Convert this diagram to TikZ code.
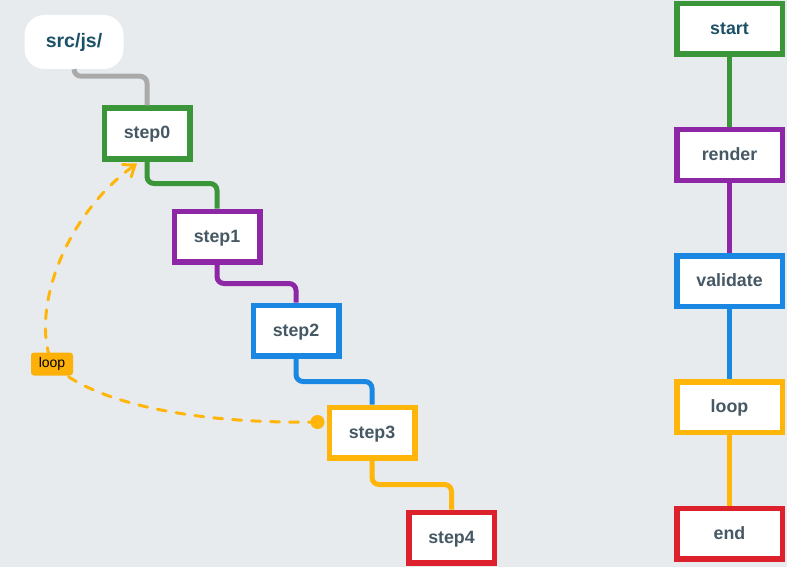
\documentclass[tikz,border=0pt]{standalone}
\usepackage{fontspec}
\setmainfont{Liberation Sans}
\usetikzlibrary{arrows.meta}
\definecolor{bgc}{RGB}{232,235,238}
\definecolor{cgreen}{RGB}{58,150,57}
\definecolor{cpurple}{RGB}{142,39,166}
\definecolor{cblue}{RGB}{26,136,226}
\definecolor{cyellow}{RGB}{255,181,10}
\definecolor{cred}{RGB}{221,33,44}
\definecolor{cgray}{RGB}{170,170,170}
\definecolor{txt}{RGB}{69,88,100}
\definecolor{teal}{RGB}{28,80,102}
\definecolor{lblc}{RGB}{252,176,8}
\begin{document}
\begin{tikzpicture}[x=1pt,y=-1pt,
  box/.style={draw, line width=5.5pt, fill=white, minimum width=85.5pt,
    minimum height=50.5pt, inner sep=0pt, text height=12.5pt, text depth=1.5pt,
    font=\bfseries\fontsize{17.8}{20}\selectfont, text=txt},
  rbox/.style={box, minimum width=105.5pt},
  link/.style={line width=5pt, rounded corners=7pt},
  vlink/.style={line width=5.5pt},
  lbl/.style={fill=lblc, rounded corners=3pt, inner sep=0pt, minimum width=42pt,
    minimum height=23pt, text=black, font=\fontsize{14}{16}\selectfont},
  loopline/.style={cyellow, line width=3pt, line cap=round, dash pattern=on 9pt off 10pt}
]
\useasboundingbox (0,0) rectangle (787,567);
\fill[bgc] (0,0) rectangle (787,567);

% left chain
\node[fill=white, rounded corners=20pt, minimum width=99pt, minimum height=54pt,
  inner sep=0pt, font=\bfseries\fontsize{19.5}{22}\selectfont, text=teal] (src) at (74,42) {src/js/};
\node[box, draw=cgreen] (step0) at (147,133.5) {step0};
\node[box, draw=cpurple] (step1) at (217,236.5) {step1};
\node[box, draw=cblue] (step2) at (296,330.5) {step2};
\node[box, draw=cyellow] (step3) at (372,432.5) {step3};
\node[box, draw=cred] (step4) at (451.5,537.5) {step4};

\draw[link, cgray] (src.south) -- ++(0,7) -| (step0.north);
\draw[link, cgreen] (step0.south) -- ++(0,22) -| (step1.north);
\draw[link, cpurple] (step1.south) -- ++(0,19) -| (step2.north);
\draw[link, cblue] (step2.south) -- ++(0,23) -| (step3.north);
\draw[link, cyellow] (step3.south) -- ++(0,24) -| (step4.north);

% loop curve
\coordinate (ls) at ([xshift=-9pt,yshift=10.5pt]step3.west);
\coordinate (le) at ([xshift=-10pt,yshift=-2pt]step0.south);
\fill[cyellow] (ls) circle (7pt);
\draw[loopline, -{Straight Barb[length=10pt,width=15pt,line cap=round]}]
  (ls) .. controls (200,424) and (95,405) .. (52,364)
  node[lbl] (lp) {loop}
  .. controls (30,310) and (65,215) .. (le);

% right column
\node[rbox, draw=cgreen, text=teal] (start) at (729.5,29) {start};
\node[rbox, draw=cpurple] (render) at (729.5,155) {render};
\node[rbox, draw=cblue] (validate) at (729.5,281) {validate};
\node[rbox, draw=cyellow] (loop) at (729.5,407) {loop};
\node[rbox, draw=cred] (end) at (729.5,533.5) {end};

\draw[vlink, cgreen] (start) -- (render);
\draw[vlink, cpurple] (render) -- (validate);
\draw[vlink, cblue] (validate) -- (loop);
\draw[vlink, cyellow] (loop) -- (end);
\end{tikzpicture}
\end{document}
